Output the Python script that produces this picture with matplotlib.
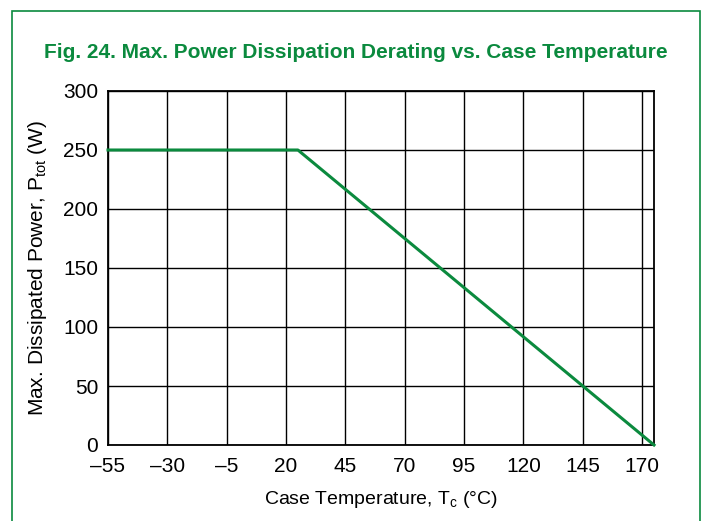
import matplotlib.pyplot as plt
from matplotlib.patches import Rectangle

# derating curve (case temperature in degC, power in W)
temp_c = [-55, 25, 175]
power_w = [250, 250, 0]

x_ticks = [-55, -30, -5, 20, 45, 70, 95, 120, 145, 170]
y_ticks = [0, 50, 100, 150, 200, 250, 300]

green = '#0b8a3e'

plt.rcParams['font.family'] = ['Liberation Sans', 'DejaVu Sans']
plt.rcParams['mathtext.fontset'] = 'custom'
plt.rcParams['mathtext.rm'] = 'Liberation Sans'

fig = plt.figure(figsize=(7.06, 5.21), dpi=100)
ax = fig.add_axes([108 / 706, 1 - 445 / 521, 546 / 706, 354 / 521])

# green frame around the figure (open at the bottom)
fig.patches.append(Rectangle((12 / 706, -0.1), 688 / 706, 1.1 - 11 / 521,
                             transform=fig.transFigure, fill=False,
                             edgecolor=green, linewidth=1.2))

fig.text(356 / 706, 1 - 52 / 521,
         'Fig. 24. Max. Power Dissipation Derating vs. Case Temperature',
         ha='center', va='center', color=green, fontsize=15, fontweight='bold')

ax.plot(temp_c, power_w, color=green, linewidth=2.2, zorder=3, clip_on=False)

ax.set_xlim(-55, 175)
ax.set_ylim(0, 300)
ax.set_xticks(x_ticks)
ax.set_yticks(y_ticks)
ax.set_xticklabels([str(t).replace('-', '\u2013') for t in x_ticks])
ax.grid(True, color='black', linewidth=1)
ax.tick_params(length=0, labelsize=15)
ax.tick_params(axis='x', pad=9)
ax.tick_params(axis='y', pad=7)
for s in ax.spines.values():
    s.set_linewidth(1.3)

ax.set_xlabel(r'Case Temperature, T$_{\mathrm{c}}$ ($\degree$C)', fontsize=14, labelpad=9)
ax.set_ylabel(r'Max. Dissipated Power, P$_{\mathrm{tot}}$ (W)', fontsize=15, labelpad=10)

fig.savefig('out.png', dpi=100)
